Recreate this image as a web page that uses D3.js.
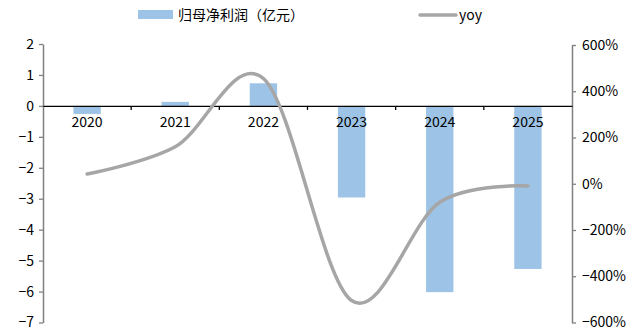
<!DOCTYPE html>
<html>
<head>
<meta charset="utf-8">
<script src="https://cdn.jsdelivr.net/npm/d3@7"></script>
<style>
  body { margin: 0; background: #fff; }
  text { font-family: "Noto Sans CJK SC", "Noto Sans", sans-serif; }
</style>
</head>
<body>
<svg id="chart" width="638" height="333"></svg>
<script>
// data
const years = ["2020", "2021", "2022", "2023", "2024", "2025"];
const profit = [-0.26, 0.13, 0.73, -2.96, -6.02, -5.27];   // 归母净利润（亿元）
const yoy = [42, 160, 455, -505, -80, -10];               // yoy, %
const leftTicks = [2, 1, 0, -1, -2, -3, -4, -5, -6, -7];
const rightTicks = [600, 400, 200, 0, -200, -400, -600];

const svg = d3.select("#chart");
const x0 = 43, x1 = 572;

const xScale = d3.scaleBand().domain(years).range([x0, x1]).paddingInner(0.69).paddingOuter(0.345);
const xBand = d3.scaleBand().domain(years).range([x0, x1]);
const yLeft = d3.scaleLinear().domain([-7, 2]).range([322.5, 44]);
const yRight = d3.scaleLinear().domain([-600, 600]).range([322.5, 45]);

const barColor = "#9DC3E6";
const lineColor = "#A6A6A6";

// bars
svg.append("g")
  .selectAll("rect")
  .data(years)
  .join("rect")
  .attr("x", d => xScale(d))
  .attr("width", xScale.bandwidth())
  .attr("y", (d, i) => yLeft(Math.max(0, profit[i])))
  .attr("height", (d, i) => Math.abs(yLeft(profit[i]) - yLeft(0)))
  .attr("fill", barColor);

// left axis
const leftAxis = svg.append("g")
  .attr("transform", "translate(" + x0 + ",0)")
  .call(d3.axisLeft(yLeft).tickValues(leftTicks).tickSize(4).tickSizeOuter(0)
    .tickFormat(d => d < 0 ? "\u2212" + Math.abs(d) : d));
leftAxis.select(".domain").attr("stroke", "#808080").attr("stroke-width", 1.5);
leftAxis.selectAll(".tick line").attr("stroke", "#808080").attr("stroke-width", 1.3);
leftAxis.selectAll("text").attr("font-size", 14).attr("fill", "#000").attr("x", -9);

// right axis
const rightAxis = svg.append("g")
  .attr("transform", "translate(" + x1 + ",0)")
  .call(d3.axisRight(yRight).tickValues(rightTicks).tickSize(4).tickSizeOuter(0)
    .tickFormat(d => (d < 0 ? "\u2212" + Math.abs(d) : d) + "%"));
rightAxis.select(".domain").attr("stroke", "#808080").attr("stroke-width", 1.5);
rightAxis.selectAll(".tick line").attr("stroke", "#808080").attr("stroke-width", 1.3);
rightAxis.selectAll("text").attr("font-size", 14).attr("fill", "#000").attr("x", 10);

// category axis at zero
const xAxis = svg.append("g")
  .attr("transform", "translate(0," + yLeft(0) + ")")
  .call(d3.axisBottom(xBand).tickSize(0).tickPadding(11));
xAxis.select(".domain").attr("stroke", "#000").attr("stroke-width", 1.3);
xAxis.selectAll("text").attr("font-size", 14).attr("fill", "#000");
xAxis.selectAll(".sep")
  .data(years.slice(1))
  .join("line")
  .attr("class", "sep")
  .attr("x1", d => xBand(d)).attr("x2", d => xBand(d))
  .attr("y1", 0).attr("y2", 4)
  .attr("stroke", "#000").attr("stroke-width", 1.3);

// yoy line, smoothed like the spreadsheet original
const line = d3.line()
  .x((d, i) => xBand(years[i]) + xBand.bandwidth() / 2)
  .y(d => yRight(d))
  .curve(d3.curveCardinal.tension(0));
svg.append("path")
  .datum(yoy)
  .attr("d", line)
  .attr("fill", "none")
  .attr("stroke", lineColor)
  .attr("stroke-width", 3.5)
  .attr("stroke-linecap", "round");

// legend
const legend = svg.append("g");
legend.append("rect")
  .attr("x", 138).attr("y", 10).attr("width", 35).attr("height", 9)
  .attr("fill", barColor);
legend.append("text")
  .attr("x", 178).attr("y", 20)
  .attr("font-size", 14)
  .attr("font-family", "'Noto Sans CJK SC', sans-serif")
  .attr("fill", "#000")
  .text("归母净利润（亿元）");
legend.append("line")
  .attr("x1", 420).attr("x2", 456).attr("y1", 15).attr("y2", 15)
  .attr("stroke", lineColor).attr("stroke-width", 3.5).attr("stroke-linecap", "round");
legend.append("text")
  .attr("x", 459).attr("y", 20)
  .attr("font-size", 14)
  .attr("fill", "#000")
  .text("yoy");
</script>
</body>
</html>
